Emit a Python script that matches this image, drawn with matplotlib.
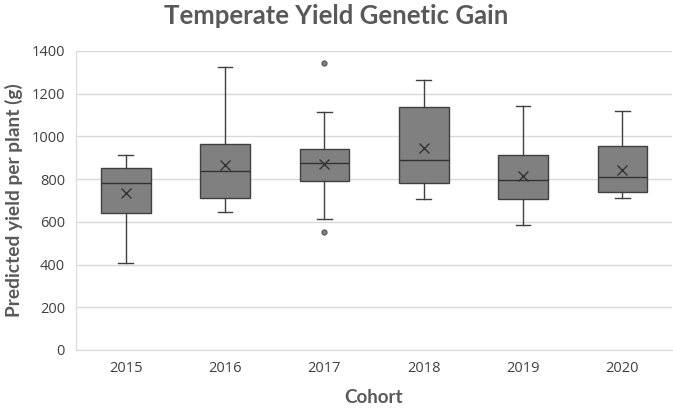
import matplotlib
matplotlib.use("Agg")
import matplotlib.pyplot as plt
import numpy as np

# values (g per plant)
cohorts = ["2015", "2016", "2017", "2018", "2019", "2020"]
whislo = [407, 645, 614, 708, 585, 711]
q1 = [641, 711, 789, 780, 705, 738]
med = [783, 836, 875, 889, 798, 808]
q3 = [853, 965, 939, 1136, 914, 953]
whishi = [911, 1325, 1113, 1263, 1143, 1118]
means = [737, 865, 870, 945, 815, 842]
fliers = [[], [], [1345, 552], [], [], []]

stats = []
for i in range(len(cohorts)):
    stats.append(dict(label=cohorts[i], whislo=whislo[i], q1=q1[i], med=med[i],
                      q3=q3[i], whishi=whishi[i], mean=means[i], fliers=fliers[i]))

fig = plt.figure(figsize=(6.73, 4.17), dpi=100)
ax = fig.add_axes([76/673, 0.1607, 596/673, 0.717])

edge = "#404040"
ax.bxp(stats, positions=np.arange(len(cohorts)), widths=0.5, capwidths=0.15,
       patch_artist=True, showmeans=True, manage_ticks=False,
       boxprops=dict(facecolor="#808080", edgecolor=edge, linewidth=1.0),
       medianprops=dict(color="#333333", linewidth=1.0),
       whiskerprops=dict(color=edge, linewidth=1.0),
       capprops=dict(color=edge, linewidth=1.0),
       meanprops=dict(marker="x", markeredgecolor="#333333", markersize=7, markeredgewidth=1.0),
       flierprops=dict(marker="o", markerfacecolor="#808080", markeredgecolor="#606060",
                       markersize=3.5))

ax.set_xlim(-0.5, 5.5)
ax.set_ylim(0, 1400)
ax.set_yticks(np.arange(0, 1401, 200))
ax.set_xticks(np.arange(len(cohorts)))
ax.set_xticklabels(cohorts)
ax.yaxis.grid(True, color="#d9d9d9", linewidth=1.0)
ax.set_axisbelow(True)
for s in ["top", "right"]:
    ax.spines[s].set_visible(False)
for s in ["left", "bottom"]:
    ax.spines[s].set_color("#d9d9d9")
ax.tick_params(length=0, labelsize=10.5, labelcolor="#404040", pad=8)
for lab in ax.get_xticklabels() + ax.get_yticklabels():
    lab.set_family("Open Sans")

ax.set_xlabel("Cohort", fontsize=13.5, fontweight="bold", color="#595959", family="Lato", labelpad=9)
ax.set_ylabel("Predicted yield per plant (g)", fontsize=13.8, fontweight="bold", color="#595959",
              family="Lato", labelpad=6)
fig.suptitle("Temperate Yield Genetic Gain", x=0.5, y=0.99, fontsize=18.5, fontweight="bold",
             color="#595959", family="Lato")

fig.savefig("out.png", dpi=100)
